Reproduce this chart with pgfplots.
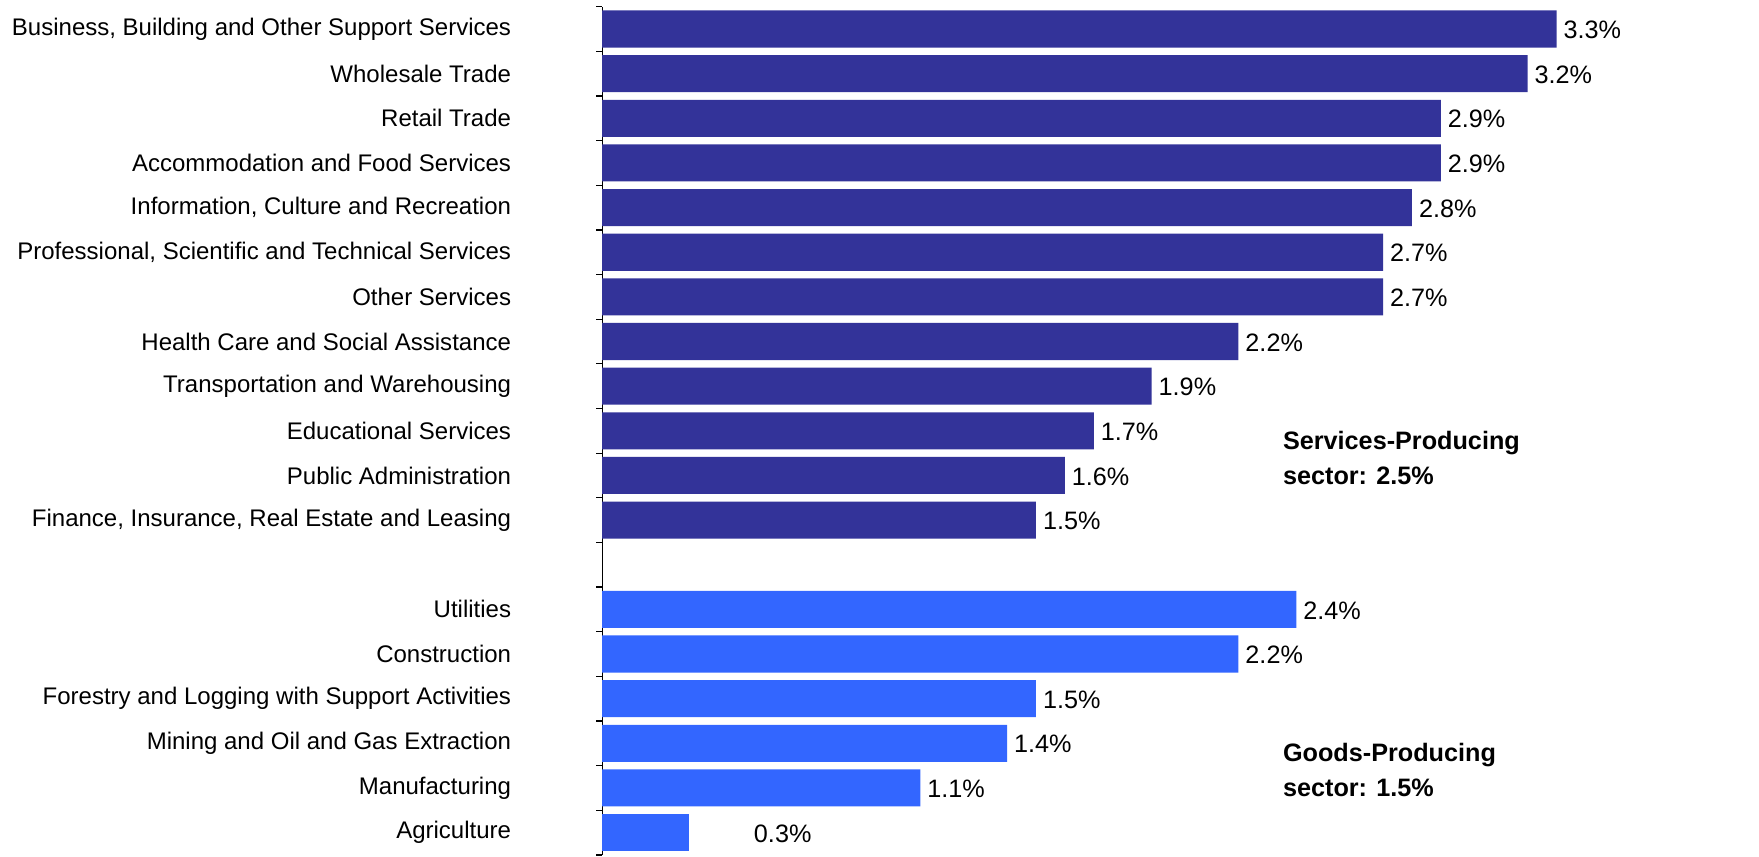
\documentclass[border=0pt]{standalone}
\usepackage{fontspec}
\setmainfont{Liberation Sans}
\usepackage{pgfplots}
\usepackage{pgfplotstable}
\pgfplotsset{compat=1.18}
\definecolor{servcol}{HTML}{333399}
\definecolor{goodcol}{HTML}{3366FF}

% y: position (18 = top), x: growth in %
\pgfplotstableread{
y x
18 3.3
17 3.2
16 2.9
15 2.9
14 2.8
13 2.7
12 2.7
11 2.2
10 1.9
9 1.7
8 1.6
7 1.5
}\services
\pgfplotstableread{
y x
5 2.4
4 2.2
3 1.5
2 1.4
1 1.1
}\goods
\pgfplotstableread{
y x
0 0.3
}\agri

\begin{document}
\begin{tikzpicture}
\path[use as bounding box] (-301pt,-1pt) rectangle (578.3pt,427.35pt);
\begin{axis}[
  at={(0pt,0pt)}, anchor=south west,
  scale only axis, width=578.3pt, height=424pt,
  xmin=0, xmax=4, ymin=-0.5, ymax=18.5,
  axis x line=none,
  axis y line*=left,
  axis line style={black, line width=0.6pt},
  ytick={0,...,18},
  yticklabels={Agriculture,Manufacturing,Mining and Oil and Gas Extraction,Forestry and Logging with Support Activities,Construction,Utilities,{},{Finance, Insurance, Real Estate and Leasing},Public Administration,Educational Services,Transportation and Warehousing,Health Care and Social Assistance,Other Services,{Professional, Scientific and Technical Services},{Information, Culture and Recreation},Accommodation and Food Services,Retail Trade,Wholesale Trade,{Business, Building and Other Support Services}},
  major tick length=0pt,
  yticklabel style={font=\fontsize{12}{14}\selectfont, xshift=-42pt, anchor=east},
  extra y ticks={-0.5,0.5,...,18.5},
  extra y tick labels={},
  extra y tick style={major tick length=3pt, tick align=outside, tick style={black, line width=0.6pt}},
  clip=false,
  point meta=x,
  nodes near coords={\pgfmathprintnumber[fixed,precision=1,fixed zerofill,assume math mode=true]{\pgfplotspointmeta}\%},
  every node near coord/.append style={anchor=west, font=\fontsize{12.6}{14}\selectfont, xshift=0pt, yshift=-0.5pt},
]
\addplot[xbar, bar width=0.83, fill=servcol, draw=none] table[x=x,y=y]{\services};
\addplot[xbar, bar width=0.83, fill=goodcol, draw=none] table[x=x,y=y]{\goods};
\addplot[xbar, bar width=0.83, fill=goodcol, draw=none, every node near coord/.append style={xshift=29pt}] table[x=x,y=y]{\agri};
\node[anchor=west, align=left, font=\bfseries\fontsize{12.6}{17.4}\selectfont] at (axis cs:2.33,8.39) {Services-Producing\\sector: 2.5\%};
\node[anchor=west, align=left, font=\bfseries\fontsize{12.6}{17.4}\selectfont] at (axis cs:2.33,1.40) {Goods-Producing\\sector: 1.5\%};
\end{axis}
\end{tikzpicture}
\end{document}
